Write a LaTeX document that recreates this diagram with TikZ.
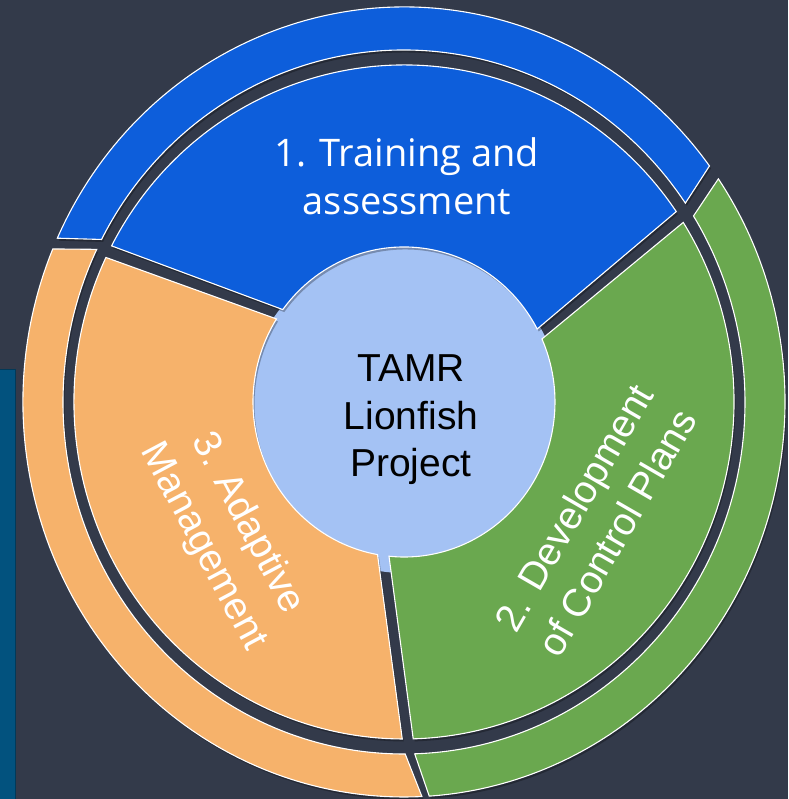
\documentclass[tikz,border=0pt]{standalone}
\usepackage{fontspec}
\setmainfont{Liberation Sans}
\newfontfamily\titlefont{Open Sans}
\definecolor{bgc}{HTML}{333A4A}
\definecolor{stripc}{HTML}{02527E}
\definecolor{segb}{HTML}{0D5EDB}
\definecolor{sego}{HTML}{F6B26B}
\definecolor{segg}{HTML}{6AA84F}
\definecolor{centerc}{HTML}{A4C2F4}
\newcommand\ringseg[9]{%
  \path[#1] ({#2*cos(#4)},{#3*sin(#4)})
    arc[start angle=#4, end angle=#5, x radius=#2pt, y radius=#3pt]
    -- ({#6*cos(#8)},{#7*sin(#8)})
    arc[start angle=#8, end angle=#9, x radius=#6pt, y radius=#7pt] -- cycle;}
\tikzset{
  segshadow/.style={fill=black, opacity=0.28, shift={(1.5,-2.5)}},
  segbase/.style={draw=white, line width=1.1pt, line join=miter},
  segblue/.style={segbase, fill=segb},
  seggreen/.style={segbase, fill=segg},
  segorange/.style={segbase, fill=sego},
  whitetext/.style={text=white, align=center, inner sep=0pt,
    font=\fontsize{39}{50}\selectfont},
}
\begin{document}
\begin{tikzpicture}[x=1pt,y=1pt]
\fill[bgc] (-404,-397) rectangle (384,402);
\useasboundingbox (-404,-397) rectangle (384,402);
\fill[stripc] (-404,-397) rectangle (-388,33);
\draw[stripc!70!black, line width=1pt] (-388.5,-397) -- (-388.5,32.5) -- (-404,32.5);
% centre disc
\fill[centerc] (0,-8) ellipse [x radius=158pt, y radius=163pt];
% shadows
\ringseg{segshadow}{330}{337}{152.4}{34.4}{151}{155}{28.1}{143.4}
\ringseg{segshadow}{330}{337}{32.2}{-88.4}{151}{155}{-95.7}{24.0}
\ringseg{segshadow}{330}{337}{154.6}{269.7}{151}{155}{259.9}{147.6}
\ringseg{segshadow}{381}{395}{155.5}{36.7}{341}{352}{34.4}{152.5}
\ringseg{segshadow}{381}{395}{34.4}{-86.2}{341}{352}{-88.2}{31.9}
\ringseg{segshadow}{381}{395}{157.2}{272.7}{341}{352}{270.2}{154.3}
% inner ring
\ringseg{segblue}{330}{337}{152.4}{34.4}{151}{155}{28.1}{143.4}
\ringseg{seggreen}{330}{337}{32.2}{-88.4}{151}{155}{-95.7}{24.0}
\ringseg{segorange}{330}{337}{154.6}{269.7}{151}{155}{259.9}{147.6}
% outer ring
\ringseg{segblue}{381}{395}{155.5}{36.7}{341}{352}{34.4}{152.5}
\ringseg{seggreen}{381}{395}{34.4}{-86.2}{341}{352}{-88.2}{31.9}
\ringseg{segorange}{381}{395}{157.2}{272.7}{341}{352}{270.2}{154.3}
% texts
\node[text=white, align=center, inner sep=0pt,
  font=\titlefont\fontsize{38}{48}\selectfont] (train) at (3,226) {1. Training and\\assessment};
\node[align=center, inner sep=0pt, font=\fontsize{39}{47.5}\selectfont] (hub) at (7,-18) {TAMR\\Lionfish\\Project};
\node[whitetext, rotate=-62] (adapt) at (-179,-133) {3. Adaptive\\Management};
\node[whitetext, rotate=60] (devel) at (191,-118) {2. Development\\of Control Plans};
\end{tikzpicture}
\end{document}
